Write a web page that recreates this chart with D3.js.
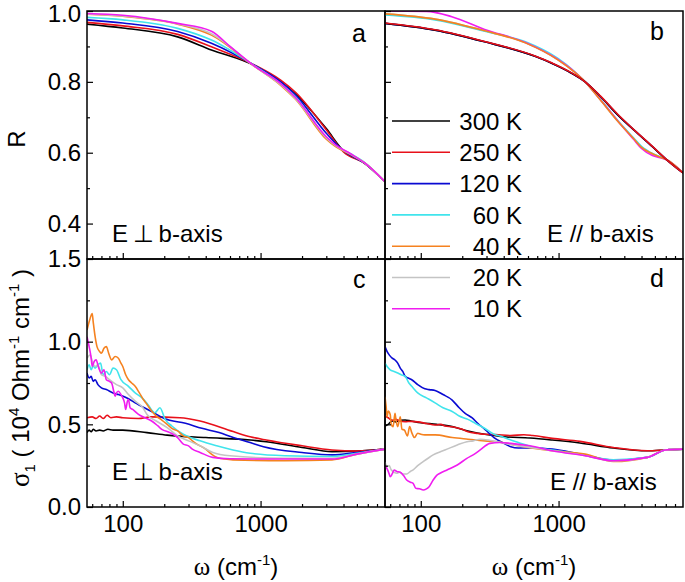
<!DOCTYPE html>
<html><head><meta charset="utf-8">
<script src="https://cdn.jsdelivr.net/npm/d3@7"></script>
<style>
body{margin:0;background:#fff;}
text{font-family:"Liberation Sans",Arial,sans-serif;fill:#000;}
</style></head>
<body><svg id="chart" width="685" height="582"></svg>
<script>
const temps = ["300 K","250 K","120 K","60 K","40 K","20 K","10 K"];
const colors = ["#000000","#e8101a","#0a0ad2","#40e4ec","#f58220","#c4c4c4","#f01cf0"];
const xTicksMajor = [100, 1000];
const xTicksMinor = [60,70,80,90,200,300,400,500,600,700,800,900,2000,3000,4000,5000,6000,7000];
const rTicks = [0.4,0.6,0.8,1.0];
const rMinor = [0.5,0.7,0.9];
const sTicks = [0.0,0.5,1.0,1.5];
const sMinor = [0.25,0.75,1.25];

// Panel a: R, E perp b-axis  [omega, R]
const R_perp = [
 [[55,0.963],[100,0.952],[250,0.927],[440,0.89],[900,0.846],[1400,0.8],[1800,0.765],[3000,0.668],[4000,0.605],[5700,0.57],[8000,0.518]],
 [[55,0.968],[100,0.958],[250,0.934],[440,0.899],[900,0.848],[1400,0.805],[1800,0.77],[3000,0.665],[4000,0.602],[5700,0.57],[8000,0.518]],
 [[55,0.975],[100,0.966],[250,0.942],[440,0.909],[900,0.847],[1400,0.8],[1800,0.762],[3000,0.655],[4000,0.605],[5700,0.57],[8000,0.518]],
 [[55,0.982],[100,0.975],[250,0.951],[440,0.918],[900,0.846],[1400,0.795],[1800,0.757],[3000,0.642],[3500,0.62],[4500,0.597],[5700,0.572],[8000,0.518]],
 [[55,0.991],[100,0.985],[250,0.963],[440,0.932],[900,0.844],[1400,0.79],[1800,0.75],[3000,0.638],[3500,0.617],[4500,0.595],[5700,0.571],[8000,0.518]],
 [[55,0.992],[100,0.986],[250,0.964],[440,0.936],[900,0.844],[1400,0.792],[1800,0.752],[3000,0.642],[3500,0.62],[4500,0.596],[5700,0.571],[8000,0.518]],
 [[55,0.993],[100,0.988],[250,0.965],[440,0.943],[600,0.9],[900,0.845],[1400,0.795],[1800,0.755],[3000,0.645],[3500,0.622],[4500,0.597],[5700,0.571],[8000,0.518]]
];
// Panel b: R, E // b-axis
const R_par = [
 [[55,0.965],[127,0.946],[291,0.913],[675,0.872],[900,0.852],[1200,0.828],[1560,0.8],[2000,0.76],[2700,0.706],[3500,0.665],[4800,0.617],[6100,0.58],[8000,0.543]],
 [[55,0.966],[127,0.947],[291,0.914],[675,0.873],[900,0.853],[1200,0.829],[1560,0.8],[2000,0.761],[2700,0.708],[3500,0.666],[4800,0.618],[6100,0.58],[8000,0.543]],
 [[55,0.965],[127,0.946],[291,0.913],[675,0.872],[900,0.852],[1200,0.828],[1560,0.8],[2000,0.76],[2700,0.706],[3500,0.665],[4800,0.617],[6100,0.58],[8000,0.543]],
 [[55,0.989],[127,0.975],[291,0.943],[575,0.913],[990,0.866],[1300,0.83],[1560,0.8],[2000,0.752],[2700,0.69],[3500,0.642],[4000,0.618],[4800,0.598],[5600,0.587],[6100,0.58],[8000,0.543]],
 [[55,0.992],[127,0.977],[291,0.944],[575,0.91],[990,0.862],[1300,0.828],[1560,0.8],[2000,0.75],[2700,0.688],[3500,0.64],[4000,0.615],[4800,0.597],[5600,0.586],[6100,0.58],[8000,0.543]],
 [[55,0.992],[127,0.977],[291,0.944],[575,0.91],[990,0.862],[1300,0.828],[1560,0.8],[2000,0.75],[2700,0.688],[3500,0.64],[4000,0.615],[4800,0.597],[5600,0.586],[6100,0.58],[8000,0.543]],
 [[55,1.0],[110,0.999],[168,0.984],[291,0.948],[575,0.911],[990,0.863],[1300,0.829],[1560,0.8],[2000,0.751],[2700,0.689],[3500,0.638],[4000,0.612],[4800,0.592],[5600,0.585],[6100,0.58],[8000,0.543]]
];
// Panel c: sigma1, E perp b-axis
const S_perp = [
 [[55,0.45],[57,0.465],[59,0.455],[61,0.47],[64,0.46],[68,0.465],[72,0.46],[78,0.47],[85,0.465],[100,0.465],[150,0.45],[210,0.435],[400,0.42],[840,0.405],[1100,0.395],[2000,0.36],[3300,0.335],[5000,0.338],[8000,0.35]],
 [[55,0.54],[60,0.545],[64,0.535],[68,0.55],[72,0.535],[77,0.555],[82,0.54],[90,0.545],[100,0.54],[130,0.535],[160,0.545],[260,0.54],[364,0.52],[633,0.456],[840,0.425],[1100,0.405],[2000,0.37],[3300,0.345],[5000,0.338],[8000,0.35]],
 [[55,0.81],[57,0.78],[59,0.79],[61,0.76],[63,0.77],[66,0.74],[70,0.72],[76,0.71],[85,0.69],[93,0.68],[110,0.655],[123,0.63],[162,0.577],[200,0.535],[285,0.506],[375,0.476],[500,0.45],[633,0.42],[840,0.39],[1050,0.365],[2000,0.33],[3300,0.315],[5000,0.33],[8000,0.35]],
 [[55,0.83],[57,0.86],[59,0.83],[61,0.855],[63,0.84],[66,0.86],[69,0.87],[72,0.8],[76,0.82],[80,0.8],[85,0.84],[90,0.83],[97,0.77],[110,0.73],[123,0.69],[138,0.66],[152,0.62],[171,0.57],[186,0.6],[203,0.53],[227,0.49],[275,0.44],[364,0.40],[480,0.37],[630,0.345],[840,0.325],[1500,0.31],[3300,0.305],[5000,0.325],[8000,0.35]],
 [[55,1.07],[57,1.12],[59,1.16],[60,1.17],[61,1.12],[63,1.03],[65,0.97],[68,0.94],[70,0.93],[73,0.96],[76,0.97],[79,0.93],[83,0.89],[88,0.91],[93,0.9],[97,0.87],[100,0.85],[105,0.8],[110,0.77],[116,0.75],[123,0.73],[132,0.69],[141,0.65],[150,0.62],[162,0.58],[175,0.55],[192,0.526],[210,0.5],[227,0.476],[250,0.46],[275,0.43],[300,0.42],[320,0.4],[345,0.38],[364,0.37],[400,0.35],[440,0.32],[483,0.3],[550,0.29],[630,0.285],[1500,0.28],[3300,0.285],[5000,0.32],[8000,0.35]],
 [[55,0.9],[58,0.92],[60,0.88],[63,0.85],[66,0.86],[70,0.8],[75,0.79],[80,0.77],[90,0.74],[100,0.72],[110,0.68],[123,0.64],[140,0.6],[150,0.56],[175,0.52],[210,0.48],[250,0.43],[300,0.4],[364,0.37],[450,0.33],[600,0.31],[1500,0.295],[3300,0.295],[5000,0.32],[8000,0.35]],
 [[55,1.03],[56,1.0],[57,0.97],[59,0.9],[60,0.85],[62,0.88],[64,0.89],[67,0.84],[70,0.81],[73,0.83],[76,0.77],[80,0.76],[83,0.75],[86,0.7],[88,0.67],[90,0.69],[93,0.70],[97,0.68],[100,0.66],[103,0.63],[105,0.59],[108,0.64],[110,0.65],[113,0.6],[118,0.59],[130,0.56],[145,0.54],[162,0.52],[180,0.49],[192,0.47],[220,0.45],[250,0.42],[275,0.38],[300,0.37],[320,0.35],[364,0.33],[450,0.30],[600,0.292],[1500,0.29],[3300,0.29],[5000,0.32],[8000,0.35]]
];
// Panel d: sigma1, E // b-axis
const S_par = [
 [[55,0.49],[58,0.5],[62,0.52],[66,0.515],[70,0.525],[77,0.526],[85,0.52],[100,0.51],[130,0.5],[169,0.486],[220,0.46],[292,0.44],[320,0.436],[400,0.425],[620,0.417],[900,0.405],[1430,0.387],[2500,0.357],[4400,0.34],[6000,0.345],[8000,0.35]],
 [[55,0.55],[58,0.54],[60,0.53],[63,0.525],[66,0.53],[70,0.52],[77,0.516],[85,0.518],[95,0.515],[110,0.505],[127,0.496],[140,0.5],[150,0.49],[169,0.485],[200,0.47],[220,0.455],[260,0.445],[292,0.44],[350,0.438],[450,0.432],[560,0.437],[650,0.432],[900,0.415],[1430,0.397],[2500,0.36],[4400,0.34],[6000,0.345],[8000,0.35]],
 [[55,0.97],[57,0.94],[59,0.92],[62,0.9],[65,0.889],[68,0.87],[71,0.84],[74,0.82],[77,0.79],[81,0.78],[86,0.77],[95,0.74],[107,0.715],[115,0.71],[127,0.705],[145,0.68],[169,0.647],[190,0.6],[210,0.566],[235,0.54],[260,0.505],[292,0.47],[340,0.42],[390,0.39],[450,0.365],[510,0.357],[675,0.357],[900,0.35],[1430,0.32],[2500,0.283],[4400,0.3],[6000,0.345],[8000,0.35]],
 [[55,0.87],[57,0.85],[60,0.83],[64,0.82],[68,0.81],[72,0.8],[77,0.79],[82,0.75],[86,0.73],[95,0.69],[110,0.66],[127,0.63],[145,0.6],[169,0.578],[190,0.55],[220,0.53],[250,0.505],[292,0.475],[340,0.44],[390,0.425],[450,0.405],[510,0.39],[675,0.36],[900,0.345],[1430,0.32],[2500,0.285],[4400,0.3],[6000,0.345],[8000,0.35]],
 [[55,0.667],[56,0.61],[57,0.546],[58,0.58],[60,0.56],[61,0.5],[63,0.486],[65,0.566],[66,0.53],[68,0.486],[71,0.546],[73,0.47],[76,0.466],[80,0.43],[83,0.486],[86,0.45],[90,0.42],[95,0.446],[100,0.44],[107,0.436],[127,0.436],[169,0.42],[220,0.41],[292,0.40],[390,0.39],[510,0.37],[900,0.34],[1560,0.32],[2500,0.275],[4400,0.3],[6000,0.345],[8000,0.35]],
 [[55,0.27],[57,0.245],[59,0.25],[61,0.225],[64,0.21],[67,0.204],[70,0.21],[74,0.2],[79,0.2],[84,0.215],[88,0.225],[95,0.25],[104,0.274],[113,0.295],[123,0.315],[140,0.335],[155,0.35],[184,0.375],[216,0.395],[240,0.4],[270,0.41],[310,0.405],[358,0.395],[470,0.375],[825,0.345],[1560,0.31],[2500,0.278],[4400,0.3],[6000,0.345],[8000,0.35]],
 [[55,0.25],[57,0.23],[59,0.2],[60,0.183],[62,0.2],[64,0.224],[67,0.215],[71,0.21],[75,0.19],[79,0.163],[84,0.15],[88,0.143],[92,0.113],[98,0.11],[104,0.103],[110,0.11],[115,0.123],[123,0.163],[130,0.19],[138,0.204],[155,0.224],[184,0.254],[216,0.294],[245,0.32],[270,0.345],[318,0.385],[375,0.39],[450,0.385],[620,0.37],[900,0.34],[1560,0.31],[2500,0.28],[4400,0.3],[6000,0.345],[8000,0.35]]
];

const svg = d3.select("#chart");
const W = 298, H = 248;
const FONT = "Liberation Sans, Arial, sans-serif";
const x = d3.scaleLog().domain([55, 8000]).range([0, W]);
const yR = d3.scaleLinear().domain([0.3, 1.0]).range([H, 0]);
const yS = d3.scaleLinear().domain([0, 1.5]).range([H, 0]);

const defaultOrder = [0,1,2,3,4,5,6];
const perpLabel = "E\u2009\u22A5\u2009b-axis";
const parLabel = "E // b-axis";
const panels = [
  {id:"a", x0:87,  y0:11,  y:yR, data:R_perp, order:defaultOrder, yt:rTicks, ym:rMinor, ylab:true,  xlab:false, pol:perpLabel, polx:25, poly:231, lx:265, ly:31},
  {id:"b", x0:385, y0:11,  y:yR, data:R_par, order:[2,5,3,6,4,0,1], yt:rTicks, ym:rMinor, ylab:false, xlab:false, pol:parLabel, polx:162, poly:231, lx:265, ly:29},
  {id:"c", x0:87,  y0:259, y:yS, data:S_perp, order:defaultOrder, yt:sTicks, ym:sMinor, ylab:true,  xlab:true,  pol:perpLabel, polx:25, poly:221, lx:266, ly:29},
  {id:"d", x0:385, y0:259, y:yS, data:S_par, order:defaultOrder, yt:sTicks, ym:sMinor, ylab:false, xlab:true,  pol:parLabel, polx:165, poly:231, lx:265, ly:28}
];

const defs = svg.append("defs");
panels.forEach(p => {
  defs.append("clipPath").attr("id","clip-"+p.id).append("rect").attr("width",W).attr("height",H);
  const g = svg.append("g").attr("transform",`translate(${p.x0},${p.y0})`);
  const line = d3.line().x(d => x(d[0])).y(d => p.y(d[1])).curve(d3.curveMonotoneX);
  const cg = g.append("g").attr("clip-path",`url(#clip-${p.id})`);
  p.order.forEach(i => {
    cg.append("path").datum(p.data[i]).attr("d",line).attr("fill","none")
      .attr("stroke",colors[i]).attr("stroke-width",1.6).attr("stroke-linejoin","round");
  });
  const ya = d3.axisLeft(p.y).tickValues(p.yt).tickSizeInner(-6).tickSizeOuter(0).tickPadding(6)
    .tickFormat(p.ylab ? d3.format(".1f") : () => "");
  const yag = g.append("g").call(ya);
  yag.select(".domain").remove();
  yag.selectAll("text").style("font-size","24px").style("font-family",FONT);
  if (p.id === "a") yag.selectAll("text").filter(d => d === 1.0).attr("dy","0.44em");
  const ym = g.append("g").call(d3.axisLeft(p.y).tickValues(p.ym).tickSizeInner(-3).tickSizeOuter(0).tickFormat(() => ""));
  ym.select(".domain").remove();
  const xa = d3.axisBottom(x).tickValues(xTicksMajor).tickSizeInner(-6).tickSizeOuter(0).tickPadding(8)
    .tickFormat(p.xlab ? d3.format("d") : () => "");
  const xag = g.append("g").attr("transform",`translate(0,${H})`).call(xa);
  xag.select(".domain").remove();
  xag.selectAll("text").style("font-size","24px").style("font-family",FONT);
  const xm = g.append("g").attr("transform",`translate(0,${H})`).call(d3.axisBottom(x).tickValues(xTicksMinor).tickSizeInner(-3).tickSizeOuter(0).tickFormat(() => ""));
  xm.select(".domain").remove();
  g.selectAll(".tick line").attr("stroke","#000").attr("stroke-width",1.2);
  g.append("rect").attr("width",W).attr("height",H).attr("fill","none").attr("stroke","#000").attr("stroke-width",1.5);
  g.append("text").attr("x",p.lx).attr("y",p.ly).style("font-size","25px").text(p.id);
  g.append("text").attr("x",p.polx).attr("y",p.poly).style("font-size","24px").text(p.pol);
  if (p.xlab) {
    const t = g.append("text").attr("x",W/2).attr("y",H+68).attr("text-anchor","middle").style("font-size","24px");
    t.append("tspan").style("font-family","Liberation Serif, serif").style("font-size","25px").text("\u03C9");
    t.append("tspan").text(" (cm");
    t.append("tspan").attr("dy",-10).style("font-size","15px").text("-1");
    t.append("tspan").attr("dy",10).text(")");
  }
});

svg.append("text").attr("transform","translate(25,139) rotate(-90)").attr("text-anchor","middle").style("font-size","24px").text("R");
const st = svg.append("text").attr("transform","translate(29,378) rotate(-90)").attr("text-anchor","middle").style("font-size","24px");
st.append("tspan").style("font-family","Liberation Serif, serif").style("font-size","27px").text("\u03C3");
st.append("tspan").attr("dy",6).style("font-size","15px").text("1");
st.append("tspan").attr("dy",-6).text(" ( 10");
st.append("tspan").attr("dy",-10).style("font-size","15px").text("4");
st.append("tspan").attr("dy",10).text(" Ohm");
st.append("tspan").attr("dy",-10).style("font-size","15px").text("-1");
st.append("tspan").attr("dy",10).text(" cm");
st.append("tspan").attr("dy",-10).style("font-size","15px").text("-1");
st.append("tspan").attr("dy",10).text(" )");

const leg = svg.append("g");
temps.forEach((t,i) => {
  const yy = 121 + i*31.3;
  leg.append("line").attr("x1",392).attr("x2",450).attr("y1",yy).attr("y2",yy).attr("stroke",colors[i]).attr("stroke-width",1.6);
  leg.append("text").attr("x",522).attr("y",yy).attr("dy","0.36em").attr("text-anchor","end").style("font-size","24px").text(t);
});
</script></body></html>
